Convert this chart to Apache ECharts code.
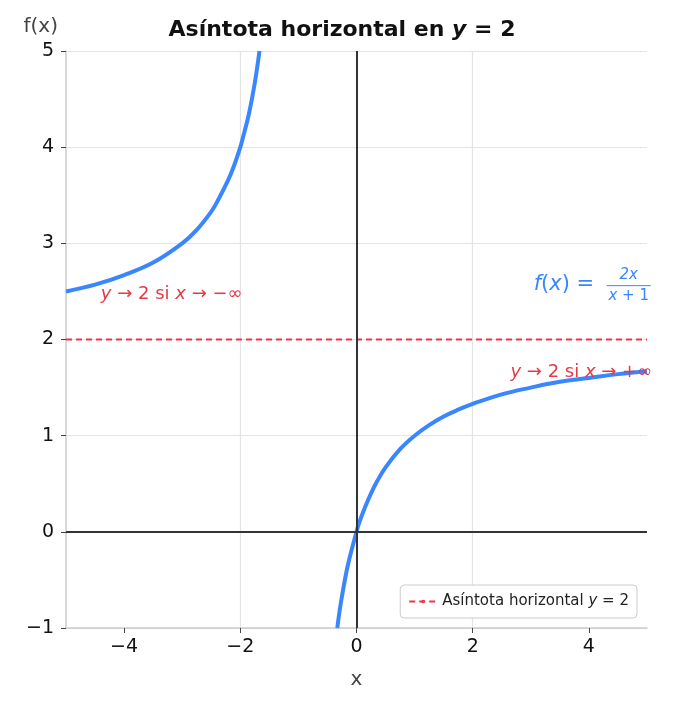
<!DOCTYPE html>
<html>
<head>
<meta charset="UTF-8">
<script src="https://cdn.jsdelivr.net/npm/echarts@6/dist/echarts.min.js"></script>
<style>html,body{margin:0;padding:0;background:#fff}#main{width:684px;height:709px}</style>
</head>
<body>
<div id="main"></div>
<script>
// puntos (rama izquierda y derecha)
var leftX = [-5, -4.5, -4, -3.5, -3, -2.75, -2.5, -2.4, -2.2, -2.1, -2, -1.95, -1.85, -1.75, -1.67];
var leftY = [2.5, 2.57, 2.67, 2.8, 3.0, 3.14, 3.33, 3.43, 3.67, 3.82, 4.0, 4.11, 4.35, 4.67, 5.0];
var rightX = [-0.33, -0.3, -0.25, -0.15, 0, 0.05, 0.15, 0.25, 0.35, 0.5, 0.75, 1, 1.25, 1.5, 1.75, 2, 2.5, 3, 3.5, 4, 4.5, 5];
var rightY = [-1.0, -0.86, -0.67, -0.35, 0, 0.1, 0.26, 0.4, 0.52, 0.67, 0.86, 1.0, 1.11, 1.2, 1.27, 1.33, 1.43, 1.5, 1.56, 1.6, 1.64, 1.67];
var asymY = 2;
var xTicks = [-4, -2, 0, 2, 4];

var blue = '#3a86ff', red = '#e63946';
var ff = 'DejaVu Sans';
function pairs(xs, ys) { return xs.map(function (x, i) { return [x, ys[i]]; }); }
function fmt(v) { return v < 0 ? '\u2212' + (-v) : String(v); }

var myChart = echarts.init(document.getElementById('main'));
myChart.setOption({
    backgroundColor: '#fff',
    animation: false,
    title: {
        text: '{b|Asíntota horizontal en }{i|y}{b| = 2}',
        left: 'center', top: 14,
        textStyle: {rich: {
            b: {fontSize: 22, fontWeight: 'bold', color: '#111', fontFamily: ff},
            i: {fontSize: 22, fontStyle: 'italic', color: '#111', fontFamily: ff}
        }}
    },
    grid: {left: 66, right: 37, top: 51, bottom: 81},
    legend: {
        right: 47, bottom: 91,
        backgroundColor: '#fff', borderColor: '#ccc', borderWidth: 1, borderRadius: 4,
        padding: [9, 8], itemWidth: 28, itemHeight: 2,
        data: ['asym'],
        formatter: function () { return '{a|Asíntota horizontal }{i|y}{a| = 2}'; },
        textStyle: {rich: {
            a: {fontSize: 15, color: '#222', fontFamily: ff},
            i: {fontSize: 15, fontStyle: 'italic', color: '#222', fontFamily: ff}
        }}
    },
    xAxis: {
        type: 'value', min: -5, max: 5, interval: 1,
        name: 'x', nameLocation: 'middle', nameGap: 42,
        nameTextStyle: {fontSize: 20, color: '#444', fontFamily: ff},
        axisLine: {onZero: false, lineStyle: {color: '#ccc', width: 1.5}},
        axisTick: {lineStyle: {color: '#444'}, customValues: xTicks},
        axisLabel: {fontSize: 19, color: '#111', fontFamily: ff, margin: 10,
            customValues: xTicks, formatter: fmt},
        splitLine: {lineStyle: {color: '#e3e3e3', width: 1.2}, showMinLine: false, showMaxLine: false}
    },
    yAxis: {
        type: 'value', min: -1, max: 5, interval: 1,
        name: 'f(x)', nameLocation: 'end', nameGap: 14,
        nameTextStyle: {fontSize: 20, color: '#444', fontFamily: ff, align: 'right', padding: [0, 8, 0, 0]},
        axisLine: {onZero: false, lineStyle: {color: '#ccc', width: 1.5}},
        axisTick: {show: true, lineStyle: {color: '#444'}},
        axisLabel: {fontSize: 19, color: '#111', fontFamily: ff, margin: 12, formatter: fmt},
        splitLine: {lineStyle: {color: '#e3e3e3', width: 1.2}}
    },
    series: [
        {
            type: 'line', data: [], silent: true,
            markLine: {symbol: 'none', silent: true, label: {show: false},
                lineStyle: {color: '#333', width: 2, type: 'solid'},
                data: [{xAxis: 0}, {yAxis: 0}]}
        },
        {
            name: 'asym', type: 'line', data: [[-5, asymY], [5, asymY]], showSymbol: false,
            lineStyle: {color: red, width: 2, type: [6, 4]}, itemStyle: {color: red}
        },
        {
            type: 'line', data: pairs(leftX, leftY), smooth: 0.4, showSymbol: false,
            lineStyle: {color: blue, width: 4}, itemStyle: {color: blue}
        },
        {
            type: 'line', data: pairs(rightX, rightY), smooth: 0.4, showSymbol: false,
            lineStyle: {color: blue, width: 4}, itemStyle: {color: blue}
        }
    ]
});

function px(x, y) { return myChart.convertToPixel({gridIndex: 0}, [x, y]); }
function txtAt(p, text, rich, fill, align) {
    return {type: 'text', x: p[0], y: p[1], z: 10,
        style: {text: text, rich: rich, fill: fill, align: align || 'left', verticalAlign: 'middle'}};
}
function rr(size, fill) {
    return {
        a: {fontSize: size, fill: fill, fontFamily: ff},
        i: {fontSize: size, fill: fill, fontStyle: 'italic', fontFamily: ff}
    };
}
var pL = px(-4.4, 2.47), pR = px(2.65, 1.66), pF = px(3.05, 2.57);
myChart.setOption({graphic: [
    txtAt(pL, '{i|y}{a| \u2192 2 si }{i|x}{a| \u2192 \u2212\u221e}', rr(18, red), red),
    txtAt(pR, '{i|y}{a| \u2192 2 si }{i|x}{a| \u2192 +\u221e}', rr(18, red), red),
    txtAt(pF, '{i|f}{a|(}{i|x}{a|) =}', rr(21, blue), blue),
    txtAt([pF[0] + 95, pF[1] - 10], '{i|2x}', rr(15, blue), blue, 'center'),
    txtAt([pF[0] + 95, pF[1] + 11], '{i|x}{a| + 1}', rr(15, blue), blue, 'center'),
    {type: 'line', z: 10, shape: {x1: pF[0] + 73, y1: pF[1] + 1, x2: pF[0] + 117, y2: pF[1] + 1},
        style: {stroke: blue, lineWidth: 1}}
]});
</script>
</body>
</html>
